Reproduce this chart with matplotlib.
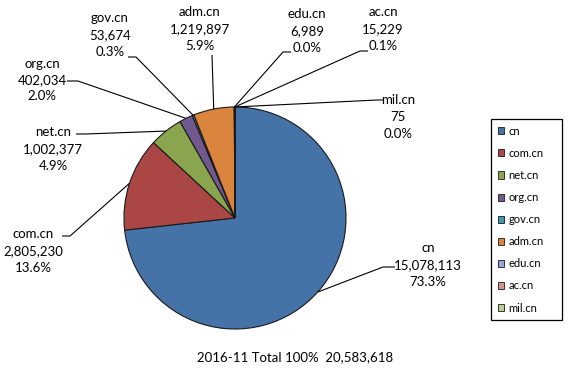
import matplotlib.pyplot as plt
from matplotlib.patches import Patch
import numpy as np

# datos
names = ['cn', 'com.cn', 'net.cn', 'org.cn', 'gov.cn', 'adm.cn', 'edu.cn', 'ac.cn', 'mil.cn']
counts = [15078113, 2805230, 1002377, 402034, 53674, 1219897, 6989, 15229, 75]
pcts = ['73.3%', '13.6%', '4.9%', '2.0%', '0.3%', '5.9%', '0.0%', '0.1%', '0.0%']
caption = '2016-11 Total 100%  20,583,618'
colors = ['#4572A7', '#AA4643', '#89A54E', '#71588F', '#4198AF',
          '#DB843D', '#93A9CF', '#D19392', '#B9CD96']

W, H = 569, 370
plt.rcParams['font.family'] = ['Lato', 'DejaVu Sans']

fig = plt.figure(figsize=(W / 100, H / 100), dpi=100)
ax = fig.add_axes([0, 0, 1, 1])

cx, cy, r = 235, H - 218, 111
explode = [0, 0.035, 0.01, 0.01, 0.01, 0.01, 0.01, 0.01, 0.01]
wedges, _ = ax.pie(counts, colors=colors, startangle=90, counterclock=False,
                   center=(cx, cy), radius=r, explode=explode,
                   wedgeprops=dict(edgecolor='#1a1a1a', linewidth=0.8))
# el pie cambia los limites, se ponen despues
ax.set_xlim(0, W)
ax.set_ylim(0, H)
ax.set_aspect('equal')
ax.axis('off')

# posiciones de etiquetas (pixeles, y hacia abajo): centro texto, codo, cola
txt_pos = [(428, 265), (33, 251), (53, 149), (42, 80), (110, 35),
           (200, 29), (307, 31), (383, 29), (398, 117)]
elbows = [(383, 267), (70, 236), (85, 134), (78, 81), (136, 57),
          (212, 55), (283, 52), (360, 51), (377, 100)]
tails = [(395, 267), (62, 236), (76, 134), (67, 81), (128, 57),
         (212, 55), (291, 52), (368, 51), (383, 100)]

for i, w in enumerate(wedges):
    th = np.deg2rad((w.theta1 + w.theta2) / 2)
    x0 = w.center[0] + w.r * np.cos(th)
    y0 = w.center[1] + w.r * np.sin(th)
    ex, ey = elbows[i]
    tx, ty = tails[i]
    ax.plot([x0, ex, tx], [y0, H - ey, H - ty], color='black', lw=0.8,
            solid_capstyle='butt')
    label = f'{names[i]}\n{counts[i]:,}\n{pcts[i]}'
    px, py = txt_pos[i]
    ax.text(px, H - py, label, ha='center', va='center', fontsize=9.5,
            linespacing=1.45, color='black')

ax.text(295, H - 357, caption, ha='center', va='center', fontsize=9.5, color='black')

handles = [Patch(facecolor=c, edgecolor='#1a1a1a', linewidth=0.6) for c in colors]
leg = fig.legend(handles, names, loc='upper left',
                 bbox_to_anchor=(491 / W, 1 - 119 / H, (562 - 491) / W, 0),
                 mode='expand', fontsize=8, frameon=True, fancybox=False,
                 framealpha=1, handlelength=0.6, handleheight=0.6,
                 handletextpad=0.35, labelspacing=1.0, borderpad=0.6,
                 borderaxespad=0)
leg.get_frame().set_edgecolor('black')
leg.get_frame().set_facecolor('white')
leg.get_frame().set_linewidth(0.9)

fig.savefig('out.png', dpi=100)
